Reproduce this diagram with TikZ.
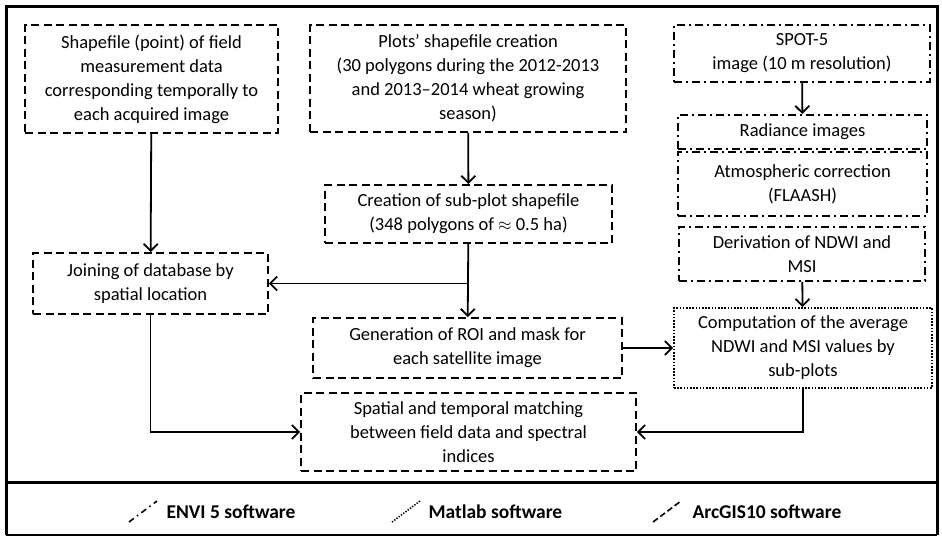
\documentclass[tikz,border=0pt]{standalone}
\usepackage{fontspec}
\setmainfont{Carlito}
\usepackage{tikz}
\usetikzlibrary{arrows.meta,positioning}

\begin{document}
\begin{tikzpicture}[
    x=1pt,
    y=-1pt,
    >={Straight Barb[length=7pt,width=14pt]},
    every node/.style={font=\fontsize{18.5}{24}\selectfont},
    arcbox/.style={draw, line width=1.8pt, dash pattern=on 8pt off 4.5pt,
        align=center, inner sep=2pt},
    envibox/.style={draw, line width=1.8pt,
        dash pattern=on 8pt off 4pt on 2pt off 4pt,
        align=center, inner sep=2pt},
    matbox/.style={draw, line width=1.8pt, dash pattern=on 1.6pt off 1.6pt,
        align=center, inner sep=2pt},
    link/.style={->, line width=1.8pt},
    legtext/.style={anchor=west, font=\fontsize{19.5}{22}\selectfont\bfseries}
]

\useasboundingbox (0,0) rectangle (942,538);

% ---------------------------------------------------------
% Frames
% ---------------------------------------------------------

\draw[line width=3pt] (6,535) -- (6,6) -- (937,6) -- (937,535);
\draw[line width=3pt] (6,482) -- (937,482);
\draw[line width=1.2pt] (6,535) -- (937,535);

% ---------------------------------------------------------
% Field data (ArcGIS)
% ---------------------------------------------------------

\node[arcbox, minimum width=253, minimum height=108] (shp)
    at (151.5,79)
    {Shapefile (point) of field\\measurement data\\corresponding temporally to\\each acquired image};

\node[arcbox, minimum width=316, minimum height=107] (plots)
    at (468,78.5)
    {Plots’ shapefile creation\\(30 polygons during the 2012-2013\\and 2013–2014 wheat growing\\season)};

\node[arcbox, minimum width=287, minimum height=58] (sub)
    at (468.5,214)
    {Creation of sub-plot shapefile\\(348 polygons of $\approx$ 0.5 ha)};

\node[arcbox, minimum width=235, minimum height=61] (join)
    at (150.5,283.5)
    {Joining of database by\\spatial location};

\node[arcbox, minimum width=309, minimum height=60] (roi)
    at (467.5,348)
    {Generation of ROI and mask for\\each satellite image};

\node[arcbox, minimum width=335, minimum height=78] (match)
    at (468.5,432)
    {Spatial and temporal matching\\between field data and spectral\\indices};

% ---------------------------------------------------------
% Image processing (ENVI)
% ---------------------------------------------------------

\node[envibox, minimum width=256, minimum height=57] (spot)
    at (802,53.5)
    {SPOT-5\\image (10 m resolution)};

\node[envibox, minimum width=249, minimum height=34] (rad)
    at (802.5,132)
    {Radiance images};

\node[envibox, minimum width=249, minimum height=64] (atm)
    at (802.5,184)
    {Atmospheric correction\\(FLAASH)};

\node[envibox, minimum width=246, minimum height=54] (ndwi)
    at (802,254)
    {Derivation of NDWI and\\MSI};

% Averages (Matlab)
\node[matbox, minimum width=258, minimum height=80] (comp)
    at (803,348)
    {Computation of the average\\NDWI and MSI values by\\sub-plots};

% ---------------------------------------------------------
% Connectors
% ---------------------------------------------------------

\draw[link] (shp) -- (join);
\draw[link] (plots) -- (sub);
\draw[link] (sub) -- (roi);
\coordinate (fork) at (sub.south |- join.east);
\draw[link] (fork) -- (join.east);
\draw[link] (join.south) |- (match.west);
\draw[link] (roi) -- (comp);
\draw[link] (comp.south) |- (match.east);
\draw[link] (spot) -- (rad);
\draw[link] (ndwi) -- (comp);

% ---------------------------------------------------------
% Legend
% ---------------------------------------------------------

\draw[line width=1.6pt, dash pattern=on 6pt off 4pt on 1.5pt off 4pt]
    (129,522) -- (157,501);
\node[legtext] (envi) at (163,512) {ENVI 5 software};

\draw[line width=1.6pt, dash pattern=on 1.3pt off 1.5pt]
    (392,522) -- (420,501);
\node[legtext] (matlab) at (425,512) {Matlab software};

\draw[line width=1.6pt, dash pattern=on 6pt off 3pt]
    (653,522) -- (681,501);
\node[legtext] (arcgis) at (689,512) {ArcGIS10 software};

\end{tikzpicture}
\end{document}
